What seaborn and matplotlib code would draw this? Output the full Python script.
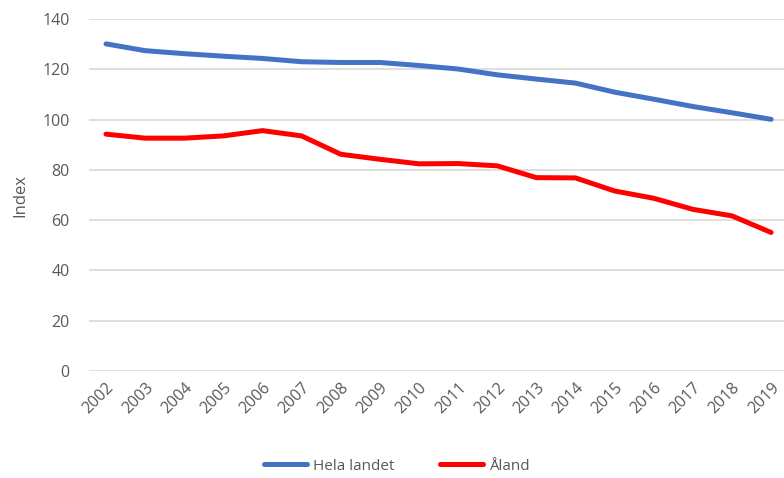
import pandas as pd
import matplotlib
matplotlib.use("Agg")
import matplotlib.pyplot as plt
import seaborn as sns

# Values
years = list(range(2002, 2020))
hela_landet = [130.1, 127.4, 126.2, 125.2, 124.3, 123.0, 122.7, 122.7, 121.5,
               120.1, 117.8, 116.1, 114.5, 110.9, 108.1, 105.2, 102.7, 100.1]
aland = [94.2, 92.6, 92.6, 93.5, 95.6, 93.5, 86.2, 84.2, 82.4,
         82.5, 81.6, 76.9, 76.8, 71.6, 68.7, 64.3, 61.7, 55.1]
series_names = ["Hela landet", "Åland"]
colors = ["#4472C4", "#FF0000"]

df = pd.DataFrame({
    "year": years * 2,
    "value": hela_landet + aland,
    "series": [series_names[0]] * len(years) + [series_names[1]] * len(years),
})

sns.set_theme(style="white")
plt.rcParams["font.family"] = ["Open Sans", "DejaVu Sans"]
text_color = "#595959"

fig = plt.figure(figsize=(7.84, 4.78), dpi=100)
ax = fig.add_axes([0.1135, 0.2238, 0.8865, 0.7365])

sns.lineplot(data=df, x="year", y="value", hue="series", palette=colors,
             linewidth=3.6, ax=ax, legend=True)

ax.set_xlim(years[0] - 0.435, years[-1] + 0.33)
ax.set_ylim(0, 140)
ax.set_yticks(range(0, 141, 20))
ax.set_xticks(years)
ax.set_xticklabels([str(y) for y in years], rotation=45, ha="right",
                   rotation_mode="anchor", fontsize=11.5, color=text_color)
ax.tick_params(axis="y", labelsize=11.5, labelcolor=text_color, length=0, pad=14)
ax.tick_params(axis="x", length=0, pad=6)
ax.yaxis.grid(True, color="#d9d9d9", linewidth=1.2)
ax.set_axisbelow(True)
for s in ax.spines.values():
    s.set_visible(False)

ax.set_xlabel("")
ax.set_ylabel("Index", fontsize=12, color=text_color, labelpad=10)

handles, labels = ax.get_legend_handles_labels()
ax.legend_.remove()
fig.legend(handles, labels, loc="center", bbox_to_anchor=(0.506, 0.025),
           ncol=2, frameon=False, fontsize=11, labelcolor=text_color,
           handlelength=2.8, columnspacing=3.0, handletextpad=0.4)

fig.savefig("out.png", dpi=100)
